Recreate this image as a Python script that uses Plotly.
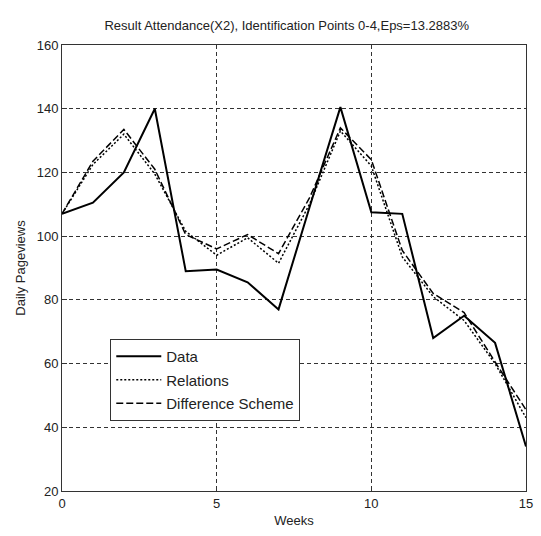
import plotly.graph_objects as go

weeks = list(range(16))
data_vals = [107, 110.5, 120, 140, 89, 89.5, 85.5, 77, 109, 140.5, 107.5, 107, 68, 75, 66.5, 34]
relations = [107, 122.5, 132, 119.5, 101.5, 94, 99.5, 91.5, 110, 133, 122, 93.5, 81, 73.5, 60, 43]
diff_scheme = [107, 123.5, 133.5, 121, 100.5, 96, 100.5, 94.5, 112, 134, 124, 95.5, 82, 76, 60.5, 45.5]
x_ticks = [0, 5, 10, 15]
y_ticks = [20, 40, 60, 80, 100, 120, 140, 160]

FONT = "Liberation Sans, Arial, sans-serif"

fig = go.Figure()
fig.add_trace(go.Scatter(x=weeks, y=data_vals, mode="lines", name="Data",
                         line=dict(color="black", width=2, dash="solid"),
                         legendgroup="a"))
fig.add_trace(go.Scatter(x=weeks, y=relations, mode="lines", name="Relations",
                         line=dict(color="black", width=1.5, dash="2px,2px"),
                         legendgroup="b"))
fig.add_trace(go.Scatter(x=weeks, y=diff_scheme, mode="lines", name="Difference Scheme",
                         line=dict(color="black", width=1.5, dash="7px,3px"),
                         legendgroup="c"))

axis_common = dict(
    showline=True, linecolor="#333333", linewidth=1, mirror=True,
    showgrid=True, gridcolor="#333333", gridwidth=1, griddash="4px,3px",
    zeroline=False, ticks="inside", ticklen=5, tickcolor="#333333",
    tickfont=dict(family=FONT, size=13, color="#222222"),
)

fig.update_layout(
    width=541, height=536,
    margin=dict(l=62, r=8, t=45, b=45),
    paper_bgcolor="white", plot_bgcolor="white",
    title=dict(text="Result Attendance(X2), Identification Points 0-4,Eps=13.2883%",
               x=0.53, xanchor="center", y=1 - 25 / 536, yanchor="middle",
               font=dict(family=FONT, size=13, color="#222222")),
    xaxis=dict(range=[0, 15], tickvals=x_ticks,
               title=dict(text="Weeks", font=dict(family=FONT, size=13, color="#222222"), standoff=6),
               **axis_common),
    yaxis=dict(range=[20, 160], tickvals=y_ticks,
               title=dict(text="Daily Pageviews", font=dict(family=FONT, size=13, color="#222222"), standoff=8),
               **axis_common),
    showlegend=True,
    legend=dict(x=(111 - 62) / 471, y=(491 - 339) / 446, xanchor="left", yanchor="top",
                bgcolor="white", bordercolor="#333333", borderwidth=1,
                font=dict(family=FONT, size=15, color="#222222"),
                traceorder="grouped", tracegroupgap=1, itemwidth=45),
)

fig.write_html("out.html")
